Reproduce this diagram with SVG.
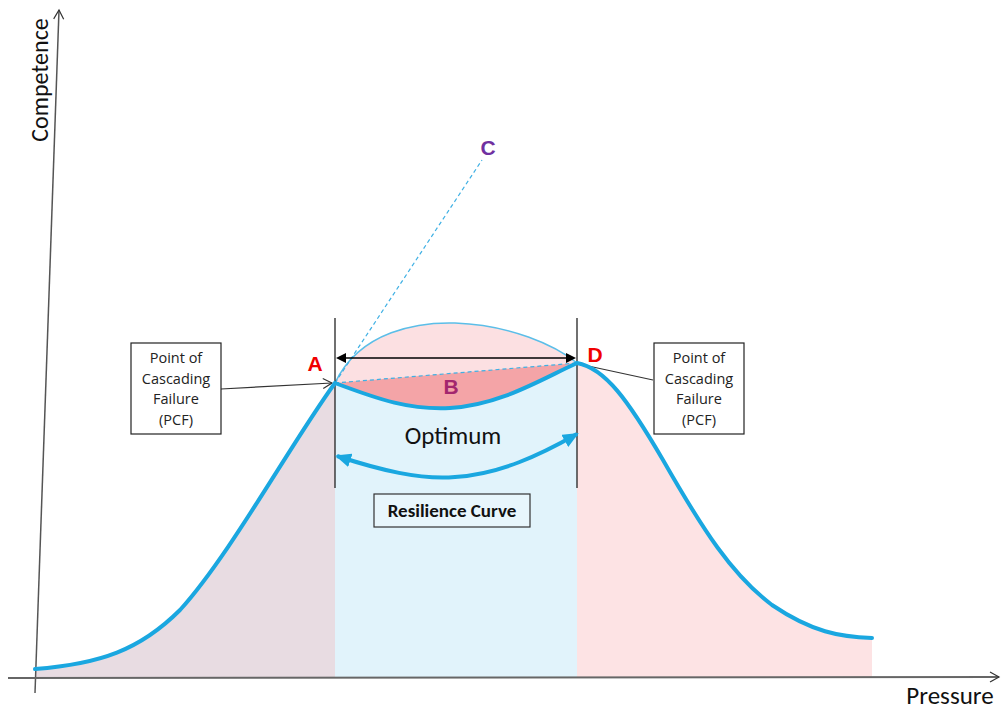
<svg xmlns="http://www.w3.org/2000/svg" width="1003" height="709" viewBox="0 0 1003 709">
<style>
.txt{font-family:"Calibri","Carlito","Liberation Sans","DejaVu Sans",sans-serif;}
.box{fill:#fff;stroke:#222;stroke-width:1.2;}
.curve{fill:none;stroke:#1AA7E0;stroke-width:4;stroke-linecap:round;}
.lbl{font-family:"Liberation Sans",sans-serif;font-weight:bold;font-size:21px;}
.pcf{font-family:"Open Sans","Liberation Sans",sans-serif;font-size:14.5px;fill:#222;text-anchor:middle;}
</style>
<defs>
<marker id="ao" markerWidth="12" markerHeight="12" refX="10" refY="6" orient="auto" markerUnits="userSpaceOnUse">
<path d="M1,1 L10,6 L1,11" fill="none" stroke="#333" stroke-width="1.2"/>
</marker>
<marker id="bh" markerWidth="16" markerHeight="14" refX="14" refY="7" orient="auto-start-reverse" markerUnits="userSpaceOnUse">
<path d="M0,0 L16,7 L0,14 Z" fill="#1AA7E0"/>
</marker>
</defs>
<g id="regions">
<path d="M35,677 L35,669 C100,664 140,650 180,610 C230,555 290,445 335,383 L335,677 Z" fill="#E8DCE2"/>
<path d="M335,383 C380,400 410,410 450,408 C500,405 540,380 577,363 L577,677 L335,677 Z" fill="#E1F3FB"/>
<path d="M577,363 C605,368 628,400 663,460 C703,530 732,575 772,605 C812,632 840,637 872,638 L872,677 L577,677 Z" fill="#FDE3E4"/>
<path d="M335,383 C360,330 420,322 455,323 C510,325 555,345 577,363 C540,380 500,405 450,408 C410,410 380,400 335,383 Z" fill="#FCE0E2"/>
<path d="M335,383 L577,363 C540,380 500,405 450,408 C410,410 380,400 335,383 Z" fill="#F4A4A7"/>
<path d="M335,383 C360,330 420,322 455,323 C510,325 555,345 577,363" fill="none" stroke="#5BBEE8" stroke-width="1.5"/>
</g>
<g id="axes">
<line x1="35" y1="693" x2="59" y2="10" stroke="#555" stroke-width="1.5" marker-end="url(#ao)"/>
<line x1="8" y1="678" x2="999" y2="677" stroke="#666" stroke-width="2" marker-end="url(#ao)"/>
<text class="txt" x="48" y="80" font-size="24" fill="#111" text-anchor="middle" transform="rotate(-90 48 80)">Competence</text>
<text class="txt" x="950" y="704" font-size="25" fill="#111" text-anchor="middle">Pressure</text>
</g>
<g id="connectors">
<line x1="335" y1="383" x2="482" y2="160" stroke="#3FB0E4" stroke-width="1.2" stroke-dasharray="4,3"/>
<line x1="335" y1="383" x2="577" y2="363" stroke="#3FB0E4" stroke-width="1.2" stroke-dasharray="4,3"/>
<line x1="335" y1="318" x2="335" y2="488" stroke="#111" stroke-width="1.2"/>
<line x1="577" y1="318" x2="577" y2="488" stroke="#111" stroke-width="1.2"/>
<line x1="345" y1="358" x2="567" y2="358" stroke="#000" stroke-width="1.5"/>
<path d="M346,353 L336,358 L346,363 Z" fill="#000"/>
<path d="M566,353 L576,358 L566,363 Z" fill="#000"/>
<line x1="221" y1="389" x2="332" y2="383" stroke="#333" stroke-width="1.2" marker-end="url(#ao)"/>
<line x1="653" y1="380" x2="579" y2="364" stroke="#333" stroke-width="1.2"/>
<path d="M337,456 C380,470 420,480 455,477 C500,474 540,455 577,434" fill="none" stroke="#1AA7E0" stroke-width="4" marker-start="url(#bh)" marker-end="url(#bh)"/>
</g>
<g id="curve">
<path class="curve" d="M35,669 C100,664 140,650 180,610 C230,555 290,445 335,383 C380,400 410,410 450,408 C500,405 540,380 577,363 C605,368 628,400 663,460 C703,530 732,575 772,605 C812,632 840,637 872,638"/>
</g>
<g id="labelA"><text class="lbl" x="315" y="371" fill="#F00000" text-anchor="middle">A</text></g>
<g id="labelB"><text class="lbl" x="451" y="394" fill="#A3266E" text-anchor="middle">B</text></g>
<g id="labelC"><text class="lbl" x="488" y="155" fill="#7030A0" text-anchor="middle">C</text></g>
<g id="labelD"><text class="lbl" x="595" y="362" fill="#F00000" text-anchor="middle">D</text></g>
<g id="optimum"><text class="txt" x="453" y="444" font-size="25" fill="#111" text-anchor="middle">Optimum</text></g>
<g id="resilience">
<rect x="374" y="494" width="156" height="33" fill="#E8F6FC" stroke="#333" stroke-width="1.2"/>
<text class="txt" x="452" y="517" font-size="19" font-weight="bold" fill="#111" text-anchor="middle">Resilience Curve</text>
</g>
<g id="pcfLeft">
<rect class="box" x="131" y="343" width="90" height="91"/>
<text class="pcf" x="176" y="363">Point of</text>
<text class="pcf" x="176" y="384">Cascading</text>
<text class="pcf" x="176" y="404">Failure</text>
<text class="pcf" x="176" y="425">(PCF)</text>
</g>
<g id="pcfRight">
<rect class="box" x="654" y="343" width="90" height="91"/>
<text class="pcf" x="699" y="363">Point of</text>
<text class="pcf" x="699" y="384">Cascading</text>
<text class="pcf" x="699" y="404">Failure</text>
<text class="pcf" x="699" y="425">(PCF)</text>
</g>
</svg>
